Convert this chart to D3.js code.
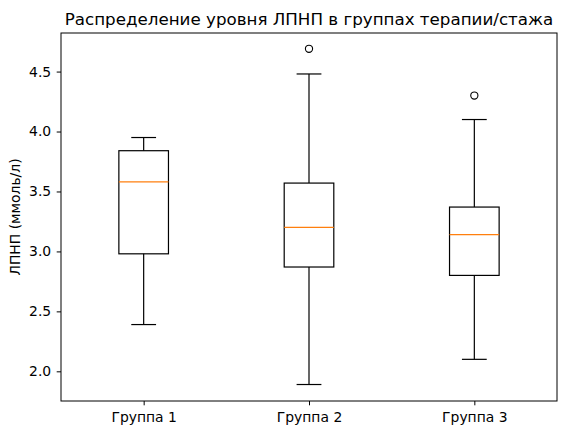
<!DOCTYPE html>
<html>
<head>
<meta charset="utf-8">
<script src="https://cdn.jsdelivr.net/npm/d3@7"></script>
<style>
  body { margin: 0; background: #fff; }
  text { font-family: "DejaVu Sans", sans-serif; fill: #000; }
</style>
</head>
<body>
<script>
// данные
const groups = ["Группа 1", "Группа 2", "Группа 3"];
const whiskerLow = [2.39, 1.89, 2.10];
const q1 = [2.98, 2.87, 2.80];
const median = [3.58, 3.20, 3.14];
const q3 = [3.84, 3.57, 3.37];
const whiskerHigh = [3.95, 4.48, 4.10];
const outliers = [[], [4.69], [4.30]];
const yTicks = [2.0, 2.5, 3.0, 3.5, 4.0, 4.5];

let width = 567, height = 435;
let margin = {left: 61, right: 10, top: 33, bottom: 34};

let svg = d3.select("body").append("svg")
  .attr("width", width)
  .attr("height", height);

let x = d3.scaleLinear().domain([0.5, 3.5]).range([margin.left, width - margin.right]);
let y = d3.scaleLinear().domain([1.7525, 4.8217]).range([height - margin.bottom, margin.top]);

let boxW = x(1.3) - x(1);
let capW = x(1.15) - x(1);

// оси
svg.append("g")
  .attr("transform", `translate(0,${height - margin.bottom})`)
  .call(d3.axisBottom(x).tickValues([1, 2, 3]).tickFormat((d, i) => groups[i]).tickSize(4.3).tickPadding(6.5).tickSizeOuter(0))
  .call(g => g.select(".domain").remove())
  .call(g => g.selectAll("text").attr("font-size", 13.9).attr("dy", "0.71em"));

svg.append("g")
  .attr("transform", `translate(${margin.left},0)`)
  .call(d3.axisLeft(y).tickValues(yTicks).tickFormat(d3.format(".1f")).tickSize(4.3).tickPadding(5.5).tickSizeOuter(0))
  .call(g => g.select(".domain").remove())
  .call(g => g.selectAll("text").attr("font-size", 13.9));

// боксы
let g = svg.append("g").selectAll("g").data(groups).join("g");

g.append("line")
  .attr("x1", (d, i) => x(i + 1)).attr("x2", (d, i) => x(i + 1))
  .attr("y1", (d, i) => y(whiskerLow[i])).attr("y2", (d, i) => y(q1[i]))
  .attr("stroke", "#000").attr("stroke-width", 1.2);
g.append("line")
  .attr("x1", (d, i) => x(i + 1)).attr("x2", (d, i) => x(i + 1))
  .attr("y1", (d, i) => y(q3[i])).attr("y2", (d, i) => y(whiskerHigh[i]))
  .attr("stroke", "#000").attr("stroke-width", 1.2);
g.append("line")
  .attr("x1", (d, i) => x(i + 1) - capW / 2).attr("x2", (d, i) => x(i + 1) + capW / 2)
  .attr("y1", (d, i) => y(whiskerLow[i])).attr("y2", (d, i) => y(whiskerLow[i]))
  .attr("stroke", "#000").attr("stroke-width", 1.2);
g.append("line")
  .attr("x1", (d, i) => x(i + 1) - capW / 2).attr("x2", (d, i) => x(i + 1) + capW / 2)
  .attr("y1", (d, i) => y(whiskerHigh[i])).attr("y2", (d, i) => y(whiskerHigh[i]))
  .attr("stroke", "#000").attr("stroke-width", 1.2);
g.append("rect")
  .attr("x", (d, i) => x(i + 1) - boxW / 2).attr("width", boxW)
  .attr("y", (d, i) => y(q3[i])).attr("height", (d, i) => y(q1[i]) - y(q3[i]))
  .attr("fill", "none").attr("stroke", "#000").attr("stroke-width", 1.2);
g.append("line")
  .attr("x1", (d, i) => x(i + 1) - boxW / 2).attr("x2", (d, i) => x(i + 1) + boxW / 2)
  .attr("y1", (d, i) => y(median[i])).attr("y2", (d, i) => y(median[i]))
  .attr("stroke", "#ff7f0e").attr("stroke-width", 1.2);
g.selectAll("circle")
  .data((d, i) => outliers[i].map(v => ({v, i})))
  .join("circle")
  .attr("cx", d => x(d.i + 1)).attr("cy", d => y(d.v)).attr("r", 3.6)
  .attr("fill", "none").attr("stroke", "#000").attr("stroke-width", 1.1);

// рамка
svg.append("rect")
  .attr("x", margin.left).attr("y", margin.top)
  .attr("width", width - margin.left - margin.right)
  .attr("height", height - margin.top - margin.bottom)
  .attr("fill", "none").attr("stroke", "#000").attr("stroke-width", 1);

svg.append("text")
  .attr("x", (margin.left + width - margin.right) / 2).attr("y", 25)
  .attr("text-anchor", "middle").attr("font-size", 16.7)
  .text("Распределение уровня ЛПНП в группах терапии/стажа");

svg.append("text")
  .attr("transform", `translate(20,${(margin.top + height - margin.bottom) / 2}) rotate(-90)`)
  .attr("text-anchor", "middle").attr("font-size", 13.9)
  .text("ЛПНП (ммоль/л)");
</script>
</body>
</html>
